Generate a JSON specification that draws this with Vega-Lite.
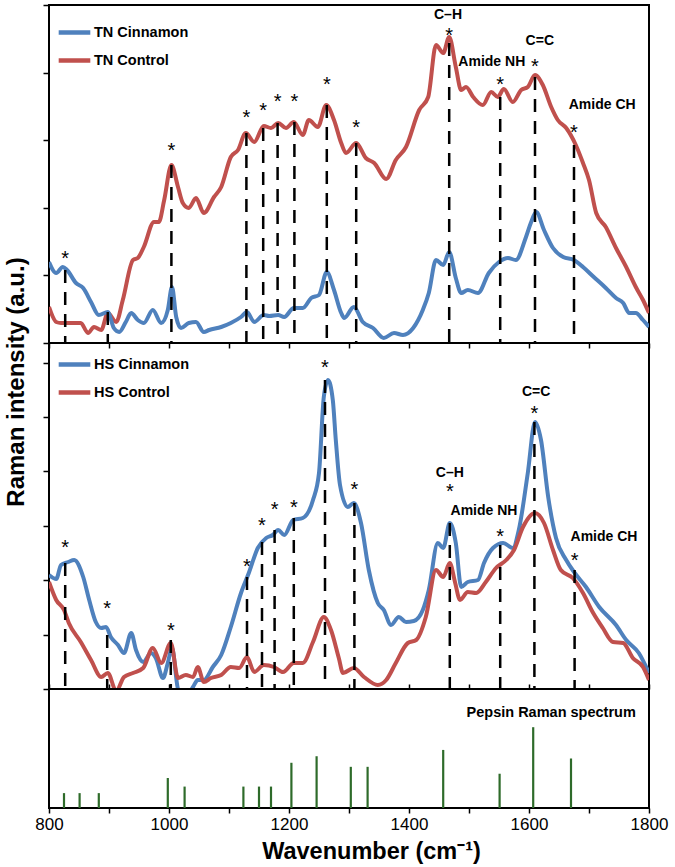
{
  "$schema": "https://vega.github.io/schema/vega-lite/v6.json",
  "padding": {"left": 2, "top": 3, "right": 5, "bottom": 0},
  "bounds": "flush",
  "spacing": 0,
  "config": {
    "font": "Liberation Sans",
    "view": {"stroke": "black", "strokeWidth": 2},
    "axis": {"domain": false, "grid": false, "tickColor": "black", "tickWidth": 1.5, "labelColor": "black", "titleColor": "black", "labelFlush": false},
    "legend": {"orient": "none", "symbolType": "stroke", "symbolStrokeWidth": 4.5, "symbolSize": 1000, "labelFontSize": 14.5, "labelFontWeight": "bold", "labelColor": "black", "labelOffset": 1, "rowPadding": -4, "padding": 0, "title": null},
    "text": {"font": "Liberation Sans"}
  },
  "datasets": {
    "tn": [
      {"s":"TN Control","w":800,"v":36},{"s":"TN Control","w":812,"v":21},{"s":"TN Control","w":820,"v":20},{"s":"TN Control","w":853,"v":20},{"s":"TN Control","w":865,"v":10},{"s":"TN Control","w":875,"v":16},{"s":"TN Control","w":887,"v":13},{"s":"TN Control","w":898,"v":30},{"s":"TN Control","w":912,"v":21},{"s":"TN Control","w":923,"v":43},{"s":"TN Control","w":940,"v":83},{"s":"TN Control","w":948,"v":85},{"s":"TN Control","w":958,"v":96},{"s":"TN Control","w":975,"v":121},{"s":"TN Control","w":983,"v":121},{"s":"TN Control","w":992,"v":143},{"s":"TN Control","w":1004,"v":178},{"s":"TN Control","w":1015,"v":156},{"s":"TN Control","w":1023,"v":140},{"s":"TN Control","w":1033,"v":135},{"s":"TN Control","w":1045,"v":145},{"s":"TN Control","w":1058,"v":130},{"s":"TN Control","w":1075,"v":146},{"s":"TN Control","w":1087,"v":156},{"s":"TN Control","w":1103,"v":186},{"s":"TN Control","w":1115,"v":193},{"s":"TN Control","w":1128,"v":210},{"s":"TN Control","w":1142,"v":201},{"s":"TN Control","w":1158,"v":217},{"s":"TN Control","w":1170,"v":215},{"s":"TN Control","w":1182,"v":220},{"s":"TN Control","w":1195,"v":215},{"s":"TN Control","w":1208,"v":221},{"s":"TN Control","w":1223,"v":208},{"s":"TN Control","w":1233,"v":223},{"s":"TN Control","w":1248,"v":216},{"s":"TN Control","w":1262,"v":238},{"s":"TN Control","w":1275,"v":223},{"s":"TN Control","w":1287,"v":200},{"s":"TN Control","w":1295,"v":190},{"s":"TN Control","w":1312,"v":200},{"s":"TN Control","w":1328,"v":185},{"s":"TN Control","w":1342,"v":180},{"s":"TN Control","w":1362,"v":164},{"s":"TN Control","w":1378,"v":183},{"s":"TN Control","w":1395,"v":196},{"s":"TN Control","w":1417,"v":233},{"s":"TN Control","w":1432,"v":246},{"s":"TN Control","w":1445,"v":298},{"s":"TN Control","w":1457,"v":290},{"s":"TN Control","w":1467,"v":306},{"s":"TN Control","w":1478,"v":276},{"s":"TN Control","w":1487,"v":253},{"s":"TN Control","w":1495,"v":256},{"s":"TN Control","w":1507,"v":246},{"s":"TN Control","w":1523,"v":238},{"s":"TN Control","w":1537,"v":251},{"s":"TN Control","w":1548,"v":246},{"s":"TN Control","w":1558,"v":254},{"s":"TN Control","w":1573,"v":241},{"s":"TN Control","w":1587,"v":253},{"s":"TN Control","w":1598,"v":256},{"s":"TN Control","w":1610,"v":268},{"s":"TN Control","w":1623,"v":258},{"s":"TN Control","w":1637,"v":236},{"s":"TN Control","w":1648,"v":223},{"s":"TN Control","w":1662,"v":215},{"s":"TN Control","w":1678,"v":198},{"s":"TN Control","w":1690,"v":180},{"s":"TN Control","w":1700,"v":163},{"s":"TN Control","w":1712,"v":130},{"s":"TN Control","w":1728,"v":116},{"s":"TN Control","w":1745,"v":95},{"s":"TN Control","w":1762,"v":76},{"s":"TN Control","w":1778,"v":56},{"s":"TN Control","w":1790,"v":43},{"s":"TN Control","w":1800,"v":30},
      {"s":"TN Cinnamon","w":800,"v":81},{"s":"TN Cinnamon","w":812,"v":70},{"s":"TN Cinnamon","w":823,"v":76},{"s":"TN Cinnamon","w":830,"v":73},{"s":"TN Cinnamon","w":845,"v":60},{"s":"TN Cinnamon","w":857,"v":55},{"s":"TN Cinnamon","w":870,"v":41},{"s":"TN Cinnamon","w":883,"v":28},{"s":"TN Cinnamon","w":898,"v":31},{"s":"TN Cinnamon","w":908,"v":15},{"s":"TN Cinnamon","w":917,"v":11},{"s":"TN Cinnamon","w":928,"v":21},{"s":"TN Cinnamon","w":937,"v":30},{"s":"TN Cinnamon","w":948,"v":23},{"s":"TN Cinnamon","w":958,"v":20},{"s":"TN Cinnamon","w":973,"v":33},{"s":"TN Cinnamon","w":987,"v":20},{"s":"TN Cinnamon","w":998,"v":33},{"s":"TN Cinnamon","w":1005,"v":56},{"s":"TN Cinnamon","w":1012,"v":26},{"s":"TN Cinnamon","w":1020,"v":15},{"s":"TN Cinnamon","w":1033,"v":20},{"s":"TN Cinnamon","w":1045,"v":21},{"s":"TN Cinnamon","w":1058,"v":11},{"s":"TN Cinnamon","w":1067,"v":13},{"s":"TN Cinnamon","w":1087,"v":16},{"s":"TN Cinnamon","w":1103,"v":20},{"s":"TN Cinnamon","w":1120,"v":26},{"s":"TN Cinnamon","w":1130,"v":31},{"s":"TN Cinnamon","w":1142,"v":21},{"s":"TN Cinnamon","w":1158,"v":28},{"s":"TN Cinnamon","w":1167,"v":27},{"s":"TN Cinnamon","w":1182,"v":28},{"s":"TN Cinnamon","w":1192,"v":26},{"s":"TN Cinnamon","w":1208,"v":35},{"s":"TN Cinnamon","w":1223,"v":35},{"s":"TN Cinnamon","w":1237,"v":45},{"s":"TN Cinnamon","w":1250,"v":48},{"s":"TN Cinnamon","w":1263,"v":71},{"s":"TN Cinnamon","w":1275,"v":53},{"s":"TN Cinnamon","w":1287,"v":30},{"s":"TN Cinnamon","w":1292,"v":25},{"s":"TN Cinnamon","w":1308,"v":36},{"s":"TN Cinnamon","w":1323,"v":21},{"s":"TN Cinnamon","w":1340,"v":15},{"s":"TN Cinnamon","w":1358,"v":5},{"s":"TN Cinnamon","w":1375,"v":10},{"s":"TN Cinnamon","w":1390,"v":8},{"s":"TN Cinnamon","w":1407,"v":15},{"s":"TN Cinnamon","w":1423,"v":33},{"s":"TN Cinnamon","w":1433,"v":50},{"s":"TN Cinnamon","w":1445,"v":83},{"s":"TN Cinnamon","w":1457,"v":78},{"s":"TN Cinnamon","w":1467,"v":91},{"s":"TN Cinnamon","w":1478,"v":65},{"s":"TN Cinnamon","w":1487,"v":50},{"s":"TN Cinnamon","w":1498,"v":53},{"s":"TN Cinnamon","w":1515,"v":50},{"s":"TN Cinnamon","w":1533,"v":70},{"s":"TN Cinnamon","w":1550,"v":81},{"s":"TN Cinnamon","w":1565,"v":85},{"s":"TN Cinnamon","w":1578,"v":83},{"s":"TN Cinnamon","w":1595,"v":106},{"s":"TN Cinnamon","w":1603,"v":120},{"s":"TN Cinnamon","w":1612,"v":131},{"s":"TN Cinnamon","w":1625,"v":113},{"s":"TN Cinnamon","w":1640,"v":95},{"s":"TN Cinnamon","w":1657,"v":86},{"s":"TN Cinnamon","w":1675,"v":83},{"s":"TN Cinnamon","w":1690,"v":76},{"s":"TN Cinnamon","w":1708,"v":66},{"s":"TN Cinnamon","w":1728,"v":55},{"s":"TN Cinnamon","w":1745,"v":45},{"s":"TN Cinnamon","w":1757,"v":40},{"s":"TN Cinnamon","w":1767,"v":30},{"s":"TN Cinnamon","w":1778,"v":30},{"s":"TN Cinnamon","w":1790,"v":23},{"s":"TN Cinnamon","w":1800,"v":16}
    ],
    "tnMarks": [
      {"w":827,"v":73,"star":89},{"w":898,"v":31,"star":null},{"w":1004,"v":178,"star":197},{"w":1129,"v":210,"star":230},{"w":1157,"v":215,"star":237},{"w":1181,"v":220,"star":246},{"w":1209,"v":221,"star":246},{"w":1263,"v":238,"star":263},{"w":1312,"v":200,"star":220},{"w":1467,"v":300,"star":312},{"w":1552,"v":246,"star":263},{"w":1610,"v":266,"star":281},{"w":1675,"v":198,"star":215}
    ],
    "tnLabels": [
      {"w":1465,"v":328,"t":"C–H"},{"w":1538,"v":281,"t":"Amide NH"},{"w":1618,"v":302,"t":"C=C"},{"w":1722,"v":238,"t":"Amide CH"}
    ],
    "hs": [
      {"s":"HS Cinnamon","w":800,"v":114},{"s":"HS Cinnamon","w":812,"v":110},{"s":"HS Cinnamon","w":820,"v":124},{"s":"HS Cinnamon","w":832,"v":127},{"s":"HS Cinnamon","w":842,"v":129},{"s":"HS Cinnamon","w":857,"v":112},{"s":"HS Cinnamon","w":867,"v":89},{"s":"HS Cinnamon","w":878,"v":67},{"s":"HS Cinnamon","w":887,"v":61},{"s":"HS Cinnamon","w":895,"v":62},{"s":"HS Cinnamon","w":903,"v":52},{"s":"HS Cinnamon","w":915,"v":44},{"s":"HS Cinnamon","w":925,"v":36},{"s":"HS Cinnamon","w":937,"v":56},{"s":"HS Cinnamon","w":945,"v":39},{"s":"HS Cinnamon","w":957,"v":27},{"s":"HS Cinnamon","w":970,"v":36},{"s":"HS Cinnamon","w":978,"v":31},{"s":"HS Cinnamon","w":990,"v":11},{"s":"HS Cinnamon","w":998,"v":26},{"s":"HS Cinnamon","w":1005,"v":41},{"s":"HS Cinnamon","w":1015,"v":0},{"s":"HS Cinnamon","w":1023,"v":-6},{"s":"HS Cinnamon","w":1032,"v":-5},{"s":"HS Cinnamon","w":1040,"v":2},{"s":"HS Cinnamon","w":1048,"v":9},{"s":"HS Cinnamon","w":1058,"v":9},{"s":"HS Cinnamon","w":1073,"v":22},{"s":"HS Cinnamon","w":1087,"v":34},{"s":"HS Cinnamon","w":1103,"v":62},{"s":"HS Cinnamon","w":1120,"v":96},{"s":"HS Cinnamon","w":1133,"v":116},{"s":"HS Cinnamon","w":1148,"v":141},{"s":"HS Cinnamon","w":1162,"v":151},{"s":"HS Cinnamon","w":1173,"v":154},{"s":"HS Cinnamon","w":1182,"v":159},{"s":"HS Cinnamon","w":1192,"v":154},{"s":"HS Cinnamon","w":1207,"v":169},{"s":"HS Cinnamon","w":1223,"v":171},{"s":"HS Cinnamon","w":1240,"v":189},{"s":"HS Cinnamon","w":1250,"v":216},{"s":"HS Cinnamon","w":1258,"v":292},{"s":"HS Cinnamon","w":1265,"v":309},{"s":"HS Cinnamon","w":1273,"v":289},{"s":"HS Cinnamon","w":1278,"v":249},{"s":"HS Cinnamon","w":1285,"v":204},{"s":"HS Cinnamon","w":1298,"v":182},{"s":"HS Cinnamon","w":1308,"v":186},{"s":"HS Cinnamon","w":1320,"v":166},{"s":"HS Cinnamon","w":1333,"v":119},{"s":"HS Cinnamon","w":1348,"v":86},{"s":"HS Cinnamon","w":1358,"v":79},{"s":"HS Cinnamon","w":1370,"v":64},{"s":"HS Cinnamon","w":1383,"v":72},{"s":"HS Cinnamon","w":1395,"v":67},{"s":"HS Cinnamon","w":1408,"v":68},{"s":"HS Cinnamon","w":1423,"v":79},{"s":"HS Cinnamon","w":1433,"v":99},{"s":"HS Cinnamon","w":1448,"v":146},{"s":"HS Cinnamon","w":1457,"v":141},{"s":"HS Cinnamon","w":1468,"v":166},{"s":"HS Cinnamon","w":1478,"v":146},{"s":"HS Cinnamon","w":1487,"v":102},{"s":"HS Cinnamon","w":1498,"v":107},{"s":"HS Cinnamon","w":1515,"v":109},{"s":"HS Cinnamon","w":1525,"v":126},{"s":"HS Cinnamon","w":1540,"v":141},{"s":"HS Cinnamon","w":1557,"v":146},{"s":"HS Cinnamon","w":1573,"v":141},{"s":"HS Cinnamon","w":1583,"v":159},{"s":"HS Cinnamon","w":1598,"v":216},{"s":"HS Cinnamon","w":1610,"v":267},{"s":"HS Cinnamon","w":1620,"v":249},{"s":"HS Cinnamon","w":1632,"v":192},{"s":"HS Cinnamon","w":1645,"v":151},{"s":"HS Cinnamon","w":1662,"v":129},{"s":"HS Cinnamon","w":1675,"v":117},{"s":"HS Cinnamon","w":1695,"v":102},{"s":"HS Cinnamon","w":1717,"v":82},{"s":"HS Cinnamon","w":1745,"v":64},{"s":"HS Cinnamon","w":1762,"v":49},{"s":"HS Cinnamon","w":1783,"v":36},{"s":"HS Cinnamon","w":1800,"v":16},
      {"s":"HS Control","w":800,"v":107},{"s":"HS Control","w":812,"v":89},{"s":"HS Control","w":825,"v":79},{"s":"HS Control","w":833,"v":66},{"s":"HS Control","w":853,"v":47},{"s":"HS Control","w":870,"v":29},{"s":"HS Control","w":887,"v":12},{"s":"HS Control","w":898,"v":16},{"s":"HS Control","w":912,"v":-2},{"s":"HS Control","w":925,"v":12},{"s":"HS Control","w":940,"v":16},{"s":"HS Control","w":957,"v":21},{"s":"HS Control","w":973,"v":41},{"s":"HS Control","w":987,"v":26},{"s":"HS Control","w":1003,"v":46},{"s":"HS Control","w":1015,"v":11},{"s":"HS Control","w":1028,"v":14},{"s":"HS Control","w":1040,"v":12},{"s":"HS Control","w":1048,"v":22},{"s":"HS Control","w":1058,"v":7},{"s":"HS Control","w":1070,"v":11},{"s":"HS Control","w":1087,"v":14},{"s":"HS Control","w":1103,"v":22},{"s":"HS Control","w":1117,"v":21},{"s":"HS Control","w":1130,"v":32},{"s":"HS Control","w":1142,"v":17},{"s":"HS Control","w":1158,"v":24},{"s":"HS Control","w":1175,"v":22},{"s":"HS Control","w":1190,"v":17},{"s":"HS Control","w":1208,"v":26},{"s":"HS Control","w":1223,"v":26},{"s":"HS Control","w":1240,"v":47},{"s":"HS Control","w":1258,"v":72},{"s":"HS Control","w":1270,"v":59},{"s":"HS Control","w":1283,"v":31},{"s":"HS Control","w":1290,"v":16},{"s":"HS Control","w":1308,"v":21},{"s":"HS Control","w":1325,"v":12},{"s":"HS Control","w":1348,"v":4},{"s":"HS Control","w":1362,"v":9},{"s":"HS Control","w":1378,"v":26},{"s":"HS Control","w":1398,"v":46},{"s":"HS Control","w":1412,"v":49},{"s":"HS Control","w":1428,"v":72},{"s":"HS Control","w":1445,"v":119},{"s":"HS Control","w":1457,"v":112},{"s":"HS Control","w":1468,"v":126},{"s":"HS Control","w":1477,"v":106},{"s":"HS Control","w":1485,"v":89},{"s":"HS Control","w":1498,"v":97},{"s":"HS Control","w":1512,"v":96},{"s":"HS Control","w":1528,"v":107},{"s":"HS Control","w":1545,"v":121},{"s":"HS Control","w":1562,"v":129},{"s":"HS Control","w":1575,"v":139},{"s":"HS Control","w":1590,"v":162},{"s":"HS Control","w":1610,"v":176},{"s":"HS Control","w":1625,"v":166},{"s":"HS Control","w":1640,"v":139},{"s":"HS Control","w":1653,"v":119},{"s":"HS Control","w":1673,"v":111},{"s":"HS Control","w":1690,"v":96},{"s":"HS Control","w":1707,"v":76},{"s":"HS Control","w":1723,"v":61},{"s":"HS Control","w":1740,"v":47},{"s":"HS Control","w":1757,"v":46},{"s":"HS Control","w":1773,"v":31},{"s":"HS Control","w":1790,"v":22},{"s":"HS Control","w":1800,"v":9}
    ],
    "hsMarks": [
      {"w":827,"v":126,"star":146},{"w":897,"v":54,"star":85},{"w":1003,"v":49,"star":63},{"w":1130,"v":112,"star":127},{"w":1155,"v":147,"star":168},{"w":1176,"v":159,"star":184},{"w":1208,"v":171,"star":186},{"w":1260,"v":309,"star":326},{"w":1309,"v":186,"star":204},{"w":1468,"v":166,"star":202},{"w":1552,"v":144,"star":157},{"w":1609,"v":267,"star":280},{"w":1676,"v":119,"star":133}
    ],
    "hsLabels": [
      {"w":1468,"v":216,"t":"C–H"},{"w":1525,"v":178,"t":"Amide NH"},{"w":1612,"v":297,"t":"C=C"},{"w":1725,"v":152,"t":"Amide CH"}
    ],
    "pepsin": [
      {"w":825,"h":0.125},{"w":851,"h":0.125},{"w":883,"h":0.125},{"w":998,"h":0.252},{"w":1026,"h":0.18},{"w":1124,"h":0.18},{"w":1150,"h":0.18},{"w":1170,"h":0.18},{"w":1204,"h":0.38},{"w":1246,"h":0.435},{"w":1303,"h":0.346},{"w":1331,"h":0.346},{"w":1457,"h":0.488},{"w":1551,"h":0.288},{"w":1607,"h":0.679},{"w":1670,"h":0.416}
    ],
    "pepsinLabel": [{"w":1778,"h":0.8,"t":"Pepsin Raman spectrum"}]
  },
  "resolve": {"scale": {"color": "independent", "y": "independent"}, "legend": {"color": "independent"}},
  "vconcat": [
    {
      "width": 600, "height": 338,
      "layer": [
        {"data": {"name": "tn"}, "mark": {"type": "line", "strokeWidth": 4, "interpolate": "monotone", "clip": true},
         "encoding": {
           "x": {"field": "w", "type": "quantitative", "scale": {"domain": [800, 1800], "nice": false, "zero": false},
                 "axis": {"values": [800,850,900,950,1000,1050,1100,1150,1200,1250,1300,1350,1400,1450,1500,1550,1600,1650,1700,1750,1800], "labels": false, "tickSize": 5, "title": null}},
           "y": {"field": "v", "type": "quantitative", "scale": {"domain": [0, 338], "nice": false, "zero": false},
                 "axis": {"values": [0, 67.6, 135.2, 202.8, 270.4, 338], "labels": false, "tickSize": 6, "title": null}},
           "color": {"field": "s", "type": "nominal", "scale": {"domain": ["TN Cinnamon", "TN Control"], "range": ["#4F81BD", "#C0504D"]},
                     "legend": {"legendX": 7, "legendY": 9}}
         }},
        {"data": {"name": "tnMarks"}, "mark": {"type": "rule", "strokeDash": [13, 9], "strokeWidth": 2.5, "color": "black"},
         "encoding": {"x": {"field": "w", "type": "quantitative"}, "y": {"field": "v", "type": "quantitative"}, "y2": {"datum": 0}}},
        {"data": {"name": "tnMarks"}, "transform": [{"filter": "datum.star != null"}],
         "mark": {"type": "text", "text": "*", "fontSize": 20, "baseline": "alphabetic", "dy": 11, "color": "black"},
         "encoding": {"x": {"field": "w", "type": "quantitative"}, "y": {"field": "star", "type": "quantitative"}}},
        {"data": {"name": "tnLabels"}, "mark": {"type": "text", "fontSize": 14, "fontWeight": "bold", "baseline": "middle", "color": "black"},
         "encoding": {"x": {"field": "w", "type": "quantitative"}, "y": {"field": "v", "type": "quantitative"}, "text": {"field": "t"}}}
      ]
    },
    {
      "width": 600, "height": 346,
      "layer": [
        {"data": {"name": "hs"}, "mark": {"type": "line", "strokeWidth": 4, "interpolate": "monotone", "clip": true},
         "encoding": {
           "x": {"field": "w", "type": "quantitative", "scale": {"domain": [800, 1800], "nice": false, "zero": false},
                 "axis": {"values": [800,850,900,950,1000,1050,1100,1150,1200,1250,1300,1350,1400,1450,1500,1550,1600,1650,1700,1750,1800], "labels": false, "tickSize": -5, "title": null}},
           "y": {"field": "v", "type": "quantitative", "scale": {"domain": [0, 346], "nice": false, "zero": false},
                 "axis": {"values": [0, 54.4, 108.8, 163.2, 217.6, 272, 326.4], "labels": false, "tickSize": 6,
                          "title": "Raman intensity (a.u.)", "titleFontSize": 24, "titleFontWeight": "bold", "titleAngle": -90,
                          "titleX": -26, "titleY": 38.5, "titleAlign": "center", "titleBaseline": "alphabetic"}},
           "color": {"field": "s", "type": "nominal", "scale": {"domain": ["HS Cinnamon", "HS Control"], "range": ["#4F81BD", "#C0504D"]},
                     "legend": {"legendX": 7, "legendY": 3}}
         }},
        {"data": {"name": "hsMarks"}, "mark": {"type": "rule", "strokeDash": [13, 9], "strokeWidth": 2.5, "color": "black"},
         "encoding": {"x": {"field": "w", "type": "quantitative"}, "y": {"field": "v", "type": "quantitative"}, "y2": {"datum": 0}}},
        {"data": {"name": "hsMarks"},
         "mark": {"type": "text", "text": "*", "fontSize": 20, "baseline": "alphabetic", "dy": 11, "color": "black"},
         "encoding": {"x": {"field": "w", "type": "quantitative"}, "y": {"field": "star", "type": "quantitative"}}},
        {"data": {"name": "hsLabels"}, "mark": {"type": "text", "fontSize": 14, "fontWeight": "bold", "baseline": "middle", "color": "black"},
         "encoding": {"x": {"field": "w", "type": "quantitative"}, "y": {"field": "v", "type": "quantitative"}, "text": {"field": "t"}}}
      ]
    },
    {
      "width": 600, "height": 119,
      "layer": [
        {"data": {"name": "pepsin"}, "mark": {"type": "rule", "strokeWidth": 2.2, "color": "#2E6B2A"},
         "encoding": {
           "x": {"field": "w", "type": "quantitative", "scale": {"domain": [800, 1800], "nice": false, "zero": false},
                 "axis": {"values": [800,850,900,950,1000,1050,1100,1150,1200,1250,1300,1350,1400,1450,1500,1550,1600,1650,1700,1750,1800],
                          "labelExpr": "datum.value % 200 === 0 ? datum.label : ''", "labelFontSize": 17, "labelPadding": 3, "tickSize": 5,
                          "format": "d",
                          "title": "Wavenumber (cm⁻¹)", "titleFontSize": 23.5, "titleFontWeight": "bold", "titleX": 322, "titleY": 50, "titleAlign": "center", "titleBaseline": "alphabetic"}},
           "y": {"field": "h", "type": "quantitative", "scale": {"domain": [0, 1], "nice": false}, "axis": null},
           "y2": {"datum": 0}
         }},
        {"data": {"name": "pepsinLabel"}, "mark": {"type": "text", "fontSize": 14.5, "fontWeight": "bold", "align": "right", "baseline": "middle", "color": "black"},
         "encoding": {"x": {"field": "w", "type": "quantitative"}, "y": {"field": "h", "type": "quantitative"}, "text": {"field": "t"}}}
      ]
    }
  ]
}
